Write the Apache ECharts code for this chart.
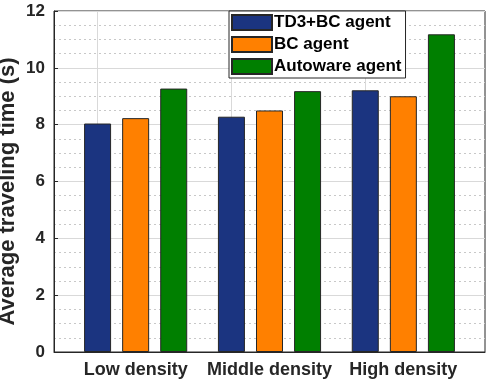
<!DOCTYPE html>
<html>
<head>
<meta charset="utf-8">
<script src="https://cdn.jsdelivr.net/npm/echarts@6/dist/echarts.min.js"></script>
<style>
  html, body { margin: 0; padding: 0; background: #fff; }
  #chart { width: 488px; height: 383px; }
</style>
</head>
<body>
<div id="chart"></div>
<script>
const categories = ["Low density", "Middle density", "High density"];
const td3bcValues = [8.04, 8.28, 9.21];
const bcValues = [8.23, 8.5, 9.0];
const autowareValues = [9.27, 9.18, 11.18];
const seriesNames = ["TD3+BC agent", "BC agent", "Autoware agent"];
const yTicks = [0, 2, 4, 6, 8, 10, 12];

const chart = echarts.init(document.getElementById("chart"));
const font = "Liberation Sans, Arial, sans-serif";
const textColor = "#262626";

// category i sits at x = i + 1 on a value axis, like MATLAB's bar groups
const toPoints = (arr) => arr.map((v, i) => [i + 1, v]);
const catPos = categories.map((c, i) => i + 1);

function barSeries(name, values, color) {
  return {
    name: name,
    type: "bar",
    barWidth: 27,
    barGap: "41%",
    z: 3,
    itemStyle: { color: color, borderColor: "#262626", borderWidth: 1 },
    data: toPoints(values),
  };
}

const series = [
  barSeries(seriesNames[0], td3bcValues, "#1b3480"),
  barSeries(seriesNames[1], bcValues, "#ff8000"),
  barSeries(seriesNames[2], autowareValues, "#007f00"),
];

// vertical grid lines at the group centres, drawn under the bars
series[0].markLine = {
  silent: true,
  symbol: "none",
  z: 1,
  label: { show: false },
  lineStyle: { color: "#d9d9d9", type: "solid", width: 1 },
  data: catPos.map((x) => ({ xAxis: x })),
};

chart.setOption({
  backgroundColor: "#fff",
  animation: false,
  grid: {
    left: 54,
    top: 11,
    width: 431,
    height: 341,
    outerBoundsMode: "none",
    containLabel: false,
    show: true,
    borderColor: "#262626",
    borderWidth: 1,
  },
  legend: {
    data: seriesNames,
    orient: "vertical",
    left: 229,
    top: 11,
    padding: [3, 4, 3, 2],
    itemGap: 5,
    itemWidth: 40,
    itemHeight: 15,
    icon: "rect",
    backgroundColor: "#fff",
    borderColor: "#262626",
    borderWidth: 1,
    borderRadius: 0,
    textStyle: { fontFamily: font, fontSize: 17, fontWeight: "bold", color: "#000", padding: [0, 0, 0, -3] },
  },
  xAxis: {
    type: "value",
    min: 0.39,
    max: 3.61,
    axisLine: { show: true, lineStyle: { color: "#262626" } },
    axisTick: { show: false, customValues: catPos },
    axisLabel: {
      customValues: catPos,
      margin: 9,
      fontFamily: font,
      fontSize: 18,
      fontWeight: "bold",
      color: textColor,
      formatter: (v) => categories[Math.round(v) - 1] || "",
    },
    splitLine: { show: false },
  },
  yAxis: {
    type: "value",
    min: yTicks[0],
    max: yTicks[yTicks.length - 1],
    interval: 2,
    name: "Average traveling time (s)",
    nameLocation: "middle",
    nameGap: 35,
    nameMoveOverlap: false,
    nameTextStyle: {
      fontFamily: font,
      fontSize: 22,
      fontWeight: "bold",
      color: textColor,
      padding: [0, 20, 0, 0],
    },
    axisLine: { show: true, lineStyle: { color: "#262626" } },
    axisTick: { show: true, inside: true, length: 4, lineStyle: { color: "#262626" } },
    axisLabel: { margin: 9, fontFamily: font, fontSize: 17, fontWeight: "bold", color: textColor },
    splitLine: { show: true, lineStyle: { color: "#d9d9d9", width: 1 } },
    minorTick: { show: false, splitNumber: 4 },
    minorSplitLine: { show: true, lineStyle: { color: "#c8c8c8", type: [2, 3], width: 1 } },
  },
  series: series,
});
</script>
</body>
</html>
